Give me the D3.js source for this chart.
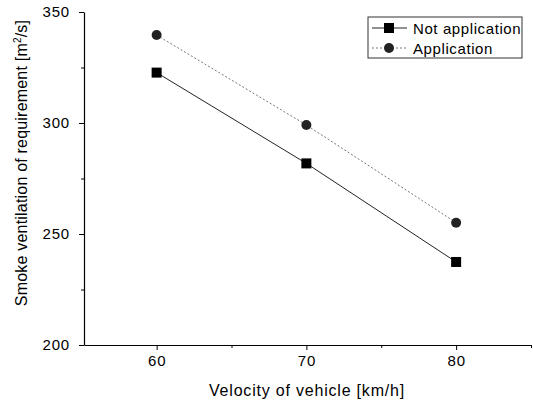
<!DOCTYPE html>
<html>
<head>
<meta charset="utf-8">
<script src="https://cdn.jsdelivr.net/npm/d3@7"></script>
<style>
  body { margin: 0; background: #fff; }
  text { font-family: "Liberation Sans", Arial, sans-serif; }
</style>
</head>
<body>
<svg width="533" height="403"></svg>
<script>
const velocity = [60, 70, 80];
const notApplication = [322.7, 281.8, 237.4];
const application = [339.6, 299.1, 255.1];
const seriesNames = ["Not application", "Application"];
const xTicks = [60, 70, 80];
const yTicks = [200, 250, 300, 350];

let svg = d3.select("svg");

let x = d3.scaleLinear().domain([55.15, 85]).range([84, 531]),
    y = d3.scaleLinear().domain([200, 350]).range([345, 12]);

// x axis
let xAxis = svg.append("g")
    .attr("transform", "translate(0,345)")
    .call(d3.axisBottom(x).tickValues(xTicks).tickSize(5).tickSizeOuter(0).tickPadding(5));
xAxis.selectAll(".tick text").attr("font-size", 15).attr("letter-spacing", 0.8)
    .attr("font-family", "Liberation Sans, Arial, sans-serif");
svg.append("g")
    .attr("transform", "translate(0,345)")
    .call(d3.axisBottom(x).tickValues([65, 75, 85]).tickSize(3).tickFormat(""))
    .select(".domain").remove();

// y axis
let yAxis = svg.append("g")
    .attr("transform", "translate(84,0)")
    .call(d3.axisLeft(y).tickValues(yTicks).tickSize(5).tickSizeOuter(0).tickPadding(9));
yAxis.selectAll(".tick text").attr("font-size", 15).attr("letter-spacing", 0.8)
    .attr("font-family", "Liberation Sans, Arial, sans-serif");
svg.append("g")
    .attr("transform", "translate(84,0)")
    .call(d3.axisLeft(y).tickValues([225, 275, 325]).tickSize(3).tickFormat(""))
    .select(".domain").remove();

svg.selectAll(".domain").attr("stroke", "#000").attr("stroke-width", 1.2);

// axis titles
svg.append("text")
    .attr("x", 307).attr("y", 396)
    .attr("text-anchor", "middle")
    .attr("font-size", 16)
    .attr("letter-spacing", 0.8)
    .text("Velocity of vehicle [km/h]");

let yt = svg.append("text")
    .attr("transform", "translate(27,163) rotate(-90)")
    .attr("text-anchor", "middle")
    .attr("font-size", 16)
    .attr("letter-spacing", 0.2);
yt.append("tspan").text("Smoke ventilation of requirement [m");
yt.append("tspan").attr("dy", -6).attr("font-size", 10).text("2");
yt.append("tspan").attr("dy", 6).text("/s]");

// lines
let line = d3.line()
    .x(function(d, i) { return x(velocity[i]); })
    .y(function(d) { return y(d); });

svg.append("path")
    .datum(notApplication)
    .attr("fill", "none")
    .attr("stroke", "#222")
    .attr("stroke-width", 1)
    .attr("d", line);

svg.append("path")
    .datum(application)
    .attr("fill", "none")
    .attr("stroke", "#777")
    .attr("stroke-width", 1)
    .attr("stroke-dasharray", "2,2")
    .attr("d", line);

svg.selectAll(".sq")
    .data(notApplication)
    .enter().append("rect")
    .attr("class", "sq")
    .attr("x", function(d, i) { return x(velocity[i]) - 5; })
    .attr("y", function(d) { return y(d) - 5; })
    .attr("width", 10).attr("height", 10)
    .attr("fill", "#000");

svg.selectAll(".ci")
    .data(application)
    .enter().append("circle")
    .attr("class", "ci")
    .attr("cx", function(d, i) { return x(velocity[i]); })
    .attr("cy", function(d) { return y(d); })
    .attr("r", 5)
    .attr("fill", "#222");

// legend
let lg = svg.append("g");
lg.append("rect")
    .attr("x", 368).attr("y", 17)
    .attr("width", 154).attr("height", 41)
    .attr("fill", "#fff").attr("stroke", "#333").attr("stroke-width", 1);

seriesNames.forEach(function(name, i) {
    let cy = 28 + i * 20;
    lg.append("line")
        .attr("x1", 372).attr("x2", 407)
        .attr("y1", cy).attr("y2", cy)
        .attr("stroke", i === 0 ? "#222" : "#777")
        .attr("stroke-dasharray", i === 0 ? null : "2,2");
    if (i === 0) {
        lg.append("rect").attr("x", 384).attr("y", cy - 5).attr("width", 10).attr("height", 10).attr("fill", "#000");
    } else {
        lg.append("circle").attr("cx", 389).attr("cy", cy).attr("r", 5).attr("fill", "#222");
    }
    lg.append("text")
        .attr("x", 413).attr("y", cy + 5.5)
        .attr("font-size", 15)
        .attr("letter-spacing", 0.6)
        .text(name);
});
</script>
</body>
</html>
